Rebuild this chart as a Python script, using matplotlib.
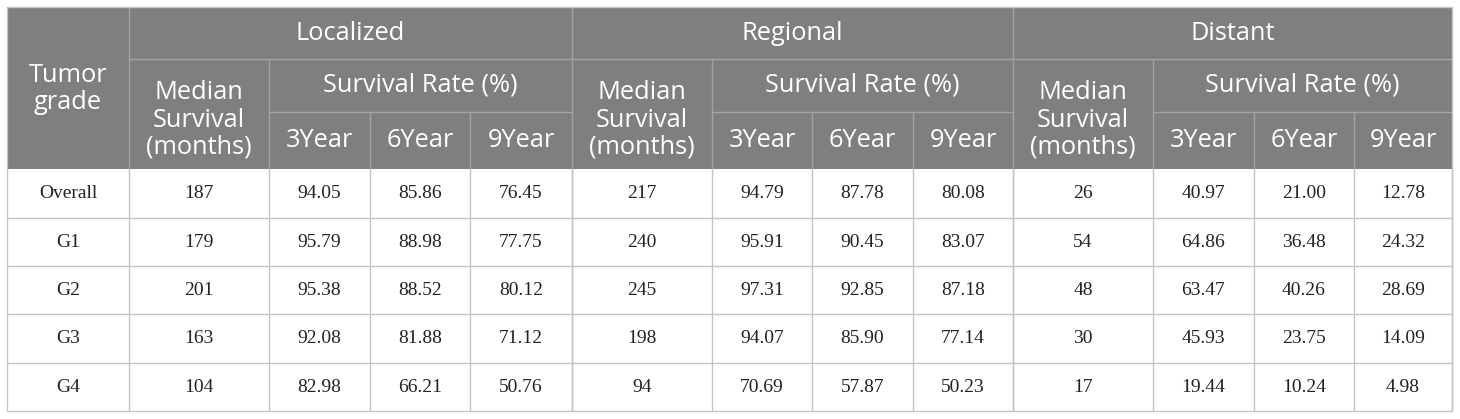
import matplotlib
matplotlib.use("Agg")
import matplotlib.pyplot as plt
from matplotlib.patches import Rectangle

# ---- table data ----
grades = ["Overall", "G1", "G2", "G3", "G4"]
stages = ["Localized", "Regional", "Distant"]
year_labels = ["3Year", "6Year", "9Year"]

localized_median = [187, 179, 201, 163, 104]
localized_3y = [94.05, 95.79, 95.38, 92.08, 82.98]
localized_6y = [85.86, 88.98, 88.52, 81.88, 66.21]
localized_9y = [76.45, 77.75, 80.12, 71.12, 50.76]

regional_median = [217, 240, 245, 198, 94]
regional_3y = [94.79, 95.91, 97.31, 94.07, 70.69]
regional_6y = [87.78, 90.45, 92.85, 85.90, 57.87]
regional_9y = [80.08, 83.07, 87.18, 77.14, 50.23]

distant_median = [26, 54, 48, 30, 17]
distant_3y = [40.97, 64.86, 63.47, 45.93, 19.44]
distant_6y = [21.00, 36.48, 40.26, 23.75, 10.24]
distant_9y = [12.78, 24.32, 28.69, 14.09, 4.98]

stage_data = [
    (localized_median, localized_3y, localized_6y, localized_9y),
    (regional_median, regional_3y, regional_6y, regional_9y),
    (distant_median, distant_3y, distant_6y, distant_9y),
]

# ---- layout (pixel grid) ----
W, H = 1460, 419
left, right = 7, 1452
top, h1, h2, hbot = 7, 59, 112, 169
row_edges = [169, 218, 266, 314, 363, 411]
# per stage: start, median|rate boundary, 3y|6y, 6y|9y, end
stage_cols = [
    [129, 269, 370, 470, 572],
    [572, 712, 812, 913, 1013],
    [1013, 1153, 1254, 1354, 1452],
]

HEAD_BG = "#7f7f7f"
HEAD_LINE = "#a3a3a3"
BODY_LINE = "#c4c4c4"
HEAD_FONT = ["Open Sans", "DejaVu Sans"]
BODY_FONT = ["Liberation Serif", "DejaVu Serif"]
hsize = 18.3
bsize = 14

fig = plt.figure(figsize=(W / 100, H / 100), dpi=100)
ax = fig.add_axes([0, 0, 1, 1])
ax.set_xlim(0, W)
ax.set_ylim(H, 0)
ax.axis("off")

ax.add_patch(Rectangle((left, top), right - left, hbot - top, facecolor=HEAD_BG, edgecolor="none"))


def hline(y, x0, x1, c, lw=1.0):
    ax.plot([x0, x1], [y, y], color=c, lw=lw, solid_capstyle="butt")


def vline(x, y0, y1, c, lw=1.0):
    ax.plot([x, x], [y0, y1], color=c, lw=lw, solid_capstyle="butt")


def head_text(x, y, s):
    ax.text(x, y, s, ha="center", va="center", color="white", fontsize=hsize,
            family=HEAD_FONT, linespacing=1.12)


def body_text(x, y, s):
    ax.text(x, y, s, ha="center", va="center", color="#222222", fontsize=bsize,
            family=BODY_FONT)


# header lines
hline(h1, left + 122, right, HEAD_LINE)
for cols in stage_cols:
    vline(cols[0], top, hbot, HEAD_LINE)
    vline(cols[1], h1, hbot, HEAD_LINE)
    vline(cols[2], h2, hbot, HEAD_LINE)
    vline(cols[3], h2, hbot, HEAD_LINE)
    hline(h2, cols[1], cols[4], HEAD_LINE)

# body lines
for y in row_edges[1:]:
    hline(y, left, right, BODY_LINE)
vline(left, top, row_edges[-1], BODY_LINE)
vline(right, top, row_edges[-1], BODY_LINE)
hline(top, left, right, BODY_LINE)
for cols in stage_cols:
    for x in cols:
        vline(x, hbot, row_edges[-1], BODY_LINE)

# header text
head_text((left + stage_cols[0][0]) / 2, (top + hbot) / 2 + 1, "Tumor\ngrade")
for name, cols in zip(stages, stage_cols):
    head_text((cols[0] + cols[4]) / 2, (top + h1) / 2, name)
    head_text((cols[0] + cols[1]) / 2, (h1 + hbot) / 2 + 6, "Median\nSurvival\n(months)")
    head_text((cols[1] + cols[4]) / 2, (h1 + h2) / 2, "Survival Rate (%)")
    xs = [cols[1], cols[2], cols[3], cols[4]]
    for k, lab in enumerate(year_labels):
        head_text((xs[k] + xs[k + 1]) / 2, (h2 + hbot) / 2, lab)

# body text
for i, g in enumerate(grades):
    yc = (row_edges[i] + row_edges[i + 1]) / 2
    body_text((left + stage_cols[0][0]) / 2, yc, g)
    for cols, (med, r3, r6, r9) in zip(stage_cols, stage_data):
        body_text((cols[0] + cols[1]) / 2, yc, f"{med[i]}")
        xs = [cols[1], cols[2], cols[3], cols[4]]
        for k, vals in enumerate((r3, r6, r9)):
            body_text((xs[k] + xs[k + 1]) / 2, yc, f"{vals[i]:.2f}")

fig.savefig("out.png", dpi=100, facecolor="white")
